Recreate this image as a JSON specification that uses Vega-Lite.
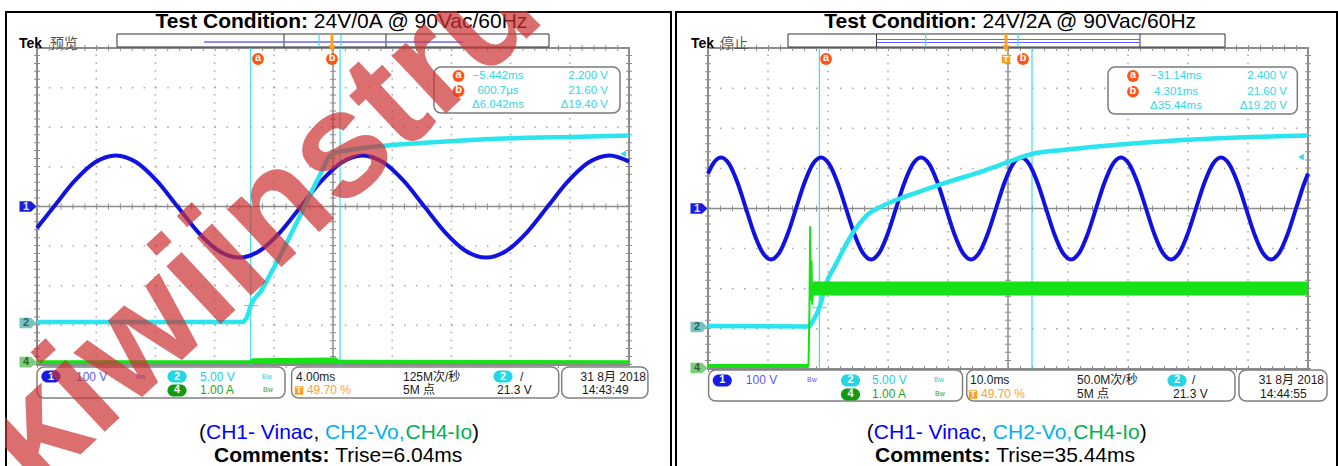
{
"$schema": "https://vega.github.io/schema/vega-lite/v6.json",
"background": "white",
"padding": {"left": 4, "top": 10, "right": 3, "bottom": 0},
"spacing": 1,
"config": {"view": {"stroke": null}, "font": "Liberation Sans, Noto Sans CJK SC"},
"hconcat": [
{
"width": 667, "height": 456,
"resolve": {"scale": {"color": "independent"}},
"encoding": {
 "x": {"field": "x", "type": "quantitative", "scale": {"domain": [-0.5405, 10.7264], "nice": false, "zero": false}, "axis": null},
 "y": {"field": "y", "type": "quantitative", "scale": {"domain": [-6.5783, 4.9369], "nice": false, "zero": false}, "axis": null}
},
"layer": [
 {"data": {"values": [{"x":1,"y":-4,"y2":4},{"x":2,"y":-4,"y2":4},{"x":3,"y":-4,"y2":4},{"x":4,"y":-4,"y2":4},{"x":6,"y":-4,"y2":4},{"x":7,"y":-4,"y2":4},{"x":8,"y":-4,"y2":4},{"x":9,"y":-4,"y2":4}]},
  "mark": {"type": "rule", "color": "#a6a6a6", "strokeWidth": 1.5, "strokeDash": [1.5, 6.42]},
  "encoding": {"y2": {"field": "y2"}}},
 {"data": {"values": [{"x":0,"x2":10,"y":-3},{"x":0,"x2":10,"y":-2},{"x":0,"x2":10,"y":-1},{"x":0,"x2":10,"y":1},{"x":0,"x2":10,"y":2},{"x":0,"x2":10,"y":3}]},
  "mark": {"type": "rule", "color": "#a6a6a6", "strokeWidth": 1.5, "strokeDash": [1.5, 10.34]},
  "encoding": {"x2": {"field": "x2"}}},
 {"data": {"values": [{"x":5,"x2":5,"y":-4,"y2":4},{"x":0,"x2":10,"y":0,"y2":0}]},
  "mark": {"type": "rule", "color": "#8c8c8c", "strokeWidth": 1.5},
  "encoding": {"x2": {"field": "x2"}, "y2": {"field": "y2"}}},
 {"data": {"values": [{"x":5,"y":-4,"y2":4},{"x":0,"y":-4,"y2":4},{"x":10,"y":-4,"y2":4}]},
  "mark": {"type": "rule", "color": "#8c8c8c", "strokeWidth": 6, "strokeDash": [1, 6.92]},
  "encoding": {"y2": {"field": "y2"}}},
 {"data": {"values": [{"x":0,"x2":10,"y":0},{"x":0,"x2":10,"y":-4},{"x":0,"x2":10,"y":4}]},
  "mark": {"type": "rule", "color": "#8c8c8c", "strokeWidth": 6, "strokeDash": [1, 10.84]},
  "encoding": {"x2": {"field": "x2"}}},
 {"data": {"values": [{"x":0,"x2":10,"y":-4,"y2":4}]},
  "mark": {"type": "rect", "fillOpacity": 0, "stroke": "#8c8c8c", "strokeWidth": 2},
  "encoding": {"x2": {"field": "x2"}, "y2": {"field": "y2"}}},
 {"data": {"values": [{"x":3.61,"y":-4,"y2":4},{"x":5.12,"y":-4,"y2":4}]},
  "mark": {"type": "rule", "color": "#3cdcec", "strokeWidth": 1.2},
  "encoding": {"y2": {"field": "y2"}}},
 {"data": {"values": [{"x":0,"y":-0.54},{"x":0.2875,"y":0},{"x":0.635,"y":0.645},{"x":0.9825,"y":1.117},{"x":1.33,"y":1.29},{"x":1.6775,"y":1.117},{"x":2.025,"y":0.645},{"x":2.3725,"y":0},{"x":2.72,"y":-0.645},{"x":3.0675,"y":-1.117},{"x":3.415,"y":-1.29},{"x":3.7625,"y":-1.117},{"x":4.11,"y":-0.645},{"x":4.4575,"y":0},{"x":4.805,"y":0.645},{"x":5.1525,"y":1.117},{"x":5.5,"y":1.29},{"x":5.8475,"y":1.117},{"x":6.195,"y":0.645},{"x":6.5425,"y":0},{"x":6.89,"y":-0.645},{"x":7.2375,"y":-1.117},{"x":7.585,"y":-1.29},{"x":7.9325,"y":-1.117},{"x":8.28,"y":-0.645},{"x":8.6275,"y":0},{"x":8.975,"y":0.645},{"x":9.3225,"y":1.117},{"x":9.67,"y":1.29},{"x":10,"y":1.134}]},
  "mark": {"type": "line", "color": "#1212e0", "strokeWidth": 4, "interpolate": "monotone"},
  "encoding": {}},
 {"data": {"values": [{"x":0,"y":-2.917},{"x":3.463,"y":-2.917},{"x":3.547,"y":-2.79},{"x":3.61,"y":-2.5},{"x":3.784,"y":-2.134},{"x":3.953,"y":-1.679},{"x":4.122,"y":-1.199},{"x":4.291,"y":-0.694},{"x":4.459,"y":-0.189},{"x":4.628,"y":0.341},{"x":4.797,"y":0.846},{"x":4.932,"y":1.25},{"x":5.034,"y":1.351},{"x":5.22,"y":1.414},{"x":5.642,"y":1.503},{"x":6.486,"y":1.604},{"x":7.331,"y":1.679},{"x":8.176,"y":1.73},{"x":9.02,"y":1.755},{"x":10,"y":1.793}]},
  "mark": {"type": "line", "color": "#2ae4ee", "strokeWidth": 4.5, "interpolate": "monotone"},
  "encoding": {}},
 {"data": {"values": [{"x":0,"y":-3.98,"y2":-3.88},{"x":3.6,"y":-3.98,"y2":-3.88},{"x":3.64,"y":-3.98,"y2":-3.83},{"x":4.5,"y":-3.98,"y2":-3.82},{"x":5.05,"y":-3.98,"y2":-3.81},{"x":5.1,"y":-3.98,"y2":-3.87},{"x":10,"y":-3.98,"y2":-3.88}]},
  "mark": {"type": "area", "color": "#16e016", "opacity": 1},
  "encoding": {"y2": {"field": "y2"}}},
 {"data": {"values": [{"x":3.49,"x2":3.73,"y":-2.5},{"x":5.0,"x2":5.24,"y":1.38}]},
  "mark": {"type": "rule", "color": "#3cdcec", "strokeWidth": 1},
  "encoding": {"x2": {"field": "x2"}}},
 {"data": {"values": [{"x":-0.152,"y":0,"ch":"1"},{"x":-0.152,"y":-2.94,"ch":"2"},{"x":-0.152,"y":-3.93,"ch":"4"}]},
  "mark": {"type": "point", "shape": "M-1,-0.62L0.35,-0.62L1,0L0.35,0.62L-1,0.62Z", "size": 289, "filled": true, "opacity": 1},
  "encoding": {"color": {"field": "ch", "type": "nominal", "scale": {"domain": ["1","2","4"], "range": ["#1c1ce0","#78c2c0","#7ccc7c"]}, "legend": null}}},
 {"data": {"values": [{"x":-0.152,"y":0,"ch":"1"},{"x":-0.152,"y":-2.94,"ch":"2"},{"x":-0.152,"y":-3.93,"ch":"4"}]},
  "mark": {"type": "text", "fontSize": 11, "fontWeight": "bold", "dx": -2, "baseline": "middle"},
  "encoding": {"text": {"field": "ch"}, "color": {"field": "ch", "type": "nominal", "scale": {"domain": ["1","2","4"], "range": ["#e0e6ff","#2f6464","#2f642f"]}, "legend": null}}},
 {"data": {"values": [{"x":9.9,"y":1.33}]},
  "mark": {"type": "point", "shape": "triangle-left", "size": 45, "filled": true, "color": "#2ae4ee", "opacity": 1}},
 {"data": {"values": [{"x":1.351,"x2":8.649,"y":4.028,"y2":4.356}]},
  "mark": {"type": "rect", "fill": "white", "stroke": "#333333", "strokeWidth": 1},
  "encoding": {"x2": {"field": "x2"}, "y2": {"field": "y2"}}},
 {"data": {"values": [{"x":4.172,"y":4.028,"y2":4.356},{"x":5.895,"y":4.028,"y2":4.356}]},
  "mark": {"type": "rule", "color": "#333333", "strokeWidth": 1},
  "encoding": {"y2": {"field": "y2"}}},
 {"data": {"values": [{"x":2.821,"x2":7.196,"y":4.154}]},
  "mark": {"type": "rule", "color": "#6464ff", "strokeWidth": 1.5},
  "encoding": {"x2": {"field": "x2"}}},
 {"data": {"values": [{"x":4.764,"y":4.028,"y2":4.356},{"x":5.135,"y":4.028,"y2":4.356}]},
  "mark": {"type": "rule", "color": "#3cdcec", "strokeWidth": 1.2},
  "encoding": {"y2": {"field": "y2"}}},
 {"data": {"values": [{"x":4.983,"y":4.02,"y2":4.35}]},
  "mark": {"type": "rule", "color": "#ffa020", "strokeWidth": 3},
  "encoding": {"y2": {"field": "y2"}}},
 {"data": {"values": [{"x":4.983,"y":3.99}]},
  "mark": {"type": "point", "shape": "triangle-down", "size": 55, "filled": true, "color": "#ffa020", "opacity": 1}},
 {"data": {"values": [{"x":6.706,"x2":9.848,"y":2.361,"y2":3.523}]},
  "mark": {"type": "rect", "fill": "white", "stroke": "#7a7a7a", "strokeWidth": 1.5, "cornerRadius": 7},
  "encoding": {"x2": {"field": "x2"}, "y2": {"field": "y2"}}},
 {"data": {"values": [{"x":3.733,"y":3.725,"lab":"a"},{"x":4.983,"y":3.725,"lab":"b"},{"x":7.12,"y":3.295,"lab":"a"},{"x":7.12,"y":2.917,"lab":"b"}]},
  "mark": {"type": "point", "shape": "circle", "size": 140, "filled": true, "color": "#ff5414", "opacity": 1}},
 {"data": {"values": [{"x":3.733,"y":3.725,"lab":"a"},{"x":4.983,"y":3.725,"lab":"b"},{"x":7.12,"y":3.295,"lab":"a"},{"x":7.12,"y":2.917,"lab":"b"}]},
  "mark": {"type": "text", "fontSize": 11, "fontWeight": "bold", "color": "white", "baseline": "middle", "dy": -1},
  "encoding": {"text": {"field": "lab"}}},
 {"data": {"values": [{"x":7.787,"y":3.295,"t":"−5.442ms"},{"x":7.787,"y":2.917,"t":"600.7µs"},{"x":7.787,"y":2.556,"t":"Δ6.042ms"}]},
  "mark": {"type": "text", "fontSize": 11.5, "color": "#30d8e8", "align": "center", "baseline": "middle"},
  "encoding": {"text": {"field": "t"}}},
 {"data": {"values": [{"x":9.645,"y":3.295,"t":"2.200 V"},{"x":9.645,"y":2.917,"t":"21.60 V"},{"x":9.645,"y":2.556,"t":"Δ19.40 V"}]},
  "mark": {"type": "text", "fontSize": 11.5, "color": "#30d8e8", "align": "right", "baseline": "middle"},
  "encoding": {"text": {"field": "t"}}},
 {"data": {"values": [{"x":0,"x2":4.189,"y":-4.836,"y2":-4.053},{"x":4.301,"x2":8.813,"y":-4.836,"y2":-4.053},{"x":8.863,"x2":10.32,"y":-4.836,"y2":-4.053}]},
  "mark": {"type": "rect", "fill": "white", "stroke": "#808080", "strokeWidth": 1.5, "cornerRadius": 7},
  "encoding": {"x2": {"field": "x2"}, "y2": {"field": "y2"}}},
 {"data": {"values": [{"x":0.236,"y":-4.293,"ch":"1"},{"x":2.365,"y":-4.293,"ch":"2"},{"x":2.365,"y":-4.646,"ch":"4"},{"x":7.872,"y":-4.293,"ch":"2"}]},
  "mark": {"type": "point", "shape": "M-0.32,-0.54L0.32,-0.54A0.54,0.54 0 0 1 0.32,0.54L-0.32,0.54A0.54,0.54 0 0 1 -0.32,-0.54Z", "size": 494, "filled": true, "opacity": 1},
  "encoding": {"color": {"field": "ch", "type": "nominal", "scale": {"domain": ["1","2","4"], "range": ["#1a1ae6","#22d6e6","#139a13"]}, "legend": null}}},
 {"data": {"values": [{"x":0.236,"y":-4.293,"ch":"1"},{"x":2.365,"y":-4.293,"ch":"2"},{"x":2.365,"y":-4.646,"ch":"4"},{"x":7.872,"y":-4.293,"ch":"2"}]},
  "mark": {"type": "text", "fontSize": 11, "fontWeight": "bold", "color": "white", "baseline": "middle"},
  "encoding": {"text": {"field": "ch"}}},
 {"data": {"values": [{"x":4.426,"y":-4.646}]},
  "mark": {"type": "point", "shape": "square", "size": 72, "filled": true, "color": "#ffa020", "opacity": 1}},
 {"data": {"values": [{"x":4.426,"y":-4.646}]},
  "mark": {"type": "text", "fontSize": 9, "fontWeight": "bold", "color": "white", "baseline": "middle", "text": "T"},
  "encoding": {}},
 {"data": {"values": [{"x":0.659,"y":-4.293,"t":"100 V","c":"ch1"},{"x":2.753,"y":-4.293,"t":"5.00 V","c":"ch2"},{"x":2.753,"y":-4.646,"t":"1.00 A","c":"ch4"},{"x":4.375,"y":-4.293,"t":"4.00ms","c":"k"},{"x":4.56,"y":-4.646,"t":"49.70 %","c":"or"},{"x":6.182,"y":-4.293,"t":"125M次/秒","c":"k"},{"x":6.182,"y":-4.646,"t":"5M 点","c":"k"},{"x":8.159,"y":-4.293,"t":"/","c":"k"},{"x":7.77,"y":-4.646,"t":"21.3 V","c":"k"},{"x":9.206,"y":-4.646,"t":"14:43:49","c":"k"}]},
  "mark": {"type": "text", "fontSize": 12, "align": "left", "baseline": "middle"},
  "encoding": {"text": {"field": "t"}, "color": {"field": "c", "type": "nominal", "scale": {"domain": ["ch1","ch2","ch4","k","or"], "range": ["#5a5aff","#20d0e4","#1fa51f","#1a1a1a","#ffa032"]}, "legend": null}}},
 {"data": {"values": [{"x":1.672,"y":-4.293,"c":"ch1"},{"x":3.801,"y":-4.293,"c":"ch2"},{"x":3.818,"y":-4.646,"c":"ch4"}]},
  "mark": {"type": "text", "fontSize": 7, "align": "left", "baseline": "middle", "text": "Bw"},
  "encoding": {"color": {"field": "c", "type": "nominal", "scale": {"domain": ["ch1","ch2","ch4"], "range": ["#5a5aff","#20d0e4","#1fa51f"]}, "legend": null}}},
 {"data": {"values": [{"x":10.287,"y":-4.293,"t":"31 8月 2018"}]},
  "mark": {"type": "text", "fontSize": 12, "align": "right", "baseline": "middle", "color": "#1a1a1a"},
  "encoding": {"text": {"field": "t"}}},
 {"data": {"values": [{"x":4.578,"y":4.508,"t":"Test Condition:"},{"x":4.941,"y":-6.452,"t":"Comments:"}]},
  "mark": {"type": "text", "fontSize": 21, "fontWeight": "bold", "align": "right", "baseline": "alphabetic", "color": "black"},
  "encoding": {"text": {"field": "t"}}},
 {"data": {"values": [{"x":4.676,"y":4.508,"t":"24V/0A @ 90Vac/60Hz"},{"x":5.039,"y":-6.452,"t":"Trise=6.04ms"}]},
  "mark": {"type": "text", "fontSize": 21, "align": "left", "baseline": "alphabetic", "color": "black"},
  "encoding": {"text": {"field": "t"}}},
 {"data": {"values": [{"x":2.736,"y":-5.871,"t":"(","ch":"k"},{"x":2.855,"y":-5.871,"t":"CH1- Vinac","ch":"CH1"},{"x":4.669,"y":-5.871,"t":",","ch":"k"},{"x":4.867,"y":-5.871,"t":"CH2-Vo,","ch":"CH2"},{"x":6.226,"y":-5.871,"t":"CH4-Io","ch":"CH4"},{"x":7.35,"y":-5.871,"t":")","ch":"k"}]},
  "mark": {"type": "text", "fontSize": 21, "align": "left", "baseline": "alphabetic"},
  "encoding": {"text": {"field": "t"}, "color": {"field": "ch", "type": "nominal", "scale": {"domain": ["k","CH1","CH2","CH4"], "range": ["#000000","#0000ff","#00b0f0","#00b050"]}, "legend": null}}},
 {"data": {"values": [{"x":-0.304,"y":4.003,"t":"Tek"}]},
  "mark": {"type": "text", "fontSize": 14, "fontWeight": "bold", "align": "left", "baseline": "alphabetic", "color": "black"},
  "encoding": {"text": {"field": "t"}}},
 {"data": {"values": [{"x":0.22,"y":4.003,"t":"预览"}]},
  "mark": {"type": "text", "fontSize": 14, "align": "left", "baseline": "alphabetic", "color": "#555555", "font": "Noto Sans CJK SC"},
  "encoding": {"text": {"field": "t"}}},
 {"data": {"values": [{"x":-0.5236,"x2":-0.5236,"y":-6.528,"y2":4.9116},{"x":10.7095,"x2":10.7095,"y":-6.528,"y2":4.9116},{"x":-0.5236,"x2":10.7095,"y":4.9116,"y2":4.9116}]},
  "mark": {"type": "rule", "color": "black", "strokeWidth": 2, "strokeCap": "square"},
  "encoding": {"x2": {"field": "x2"}, "y2": {"field": "y2"}}},
 {"data": {"values": [{"x":-0.017,"y":-7.311,"t":"kiwiinstruments"}]},
  "mark": {"type": "text", "fontSize": 150, "fontWeight": "bold", "align": "left", "baseline": "alphabetic", "angle": -43, "color": "#cc3333", "opacity": 0.7, "clip": true},
  "encoding": {"text": {"field": "t"}}}
]
},
{
"width": 663, "height": 456,
"resolve": {"scale": {"color": "independent"}},
"encoding": {
 "x": {"field": "x", "type": "quantitative", "scale": {"domain": [-0.55, 10.5], "nice": false, "zero": false}, "axis": null},
 "y": {"field": "y", "type": "quantitative", "scale": {"domain": [-6.4464, 4.9252], "nice": false, "zero": false}, "axis": null}
},
"layer": [
 {"data": {"values": [{"x":1,"y":-4,"y2":4},{"x":2,"y":-4,"y2":4},{"x":3,"y":-4,"y2":4},{"x":4,"y":-4,"y2":4},{"x":6,"y":-4,"y2":4},{"x":7,"y":-4,"y2":4},{"x":8,"y":-4,"y2":4},{"x":9,"y":-4,"y2":4}]},
  "mark": {"type": "rule", "color": "#a6a6a6", "strokeWidth": 1.5, "strokeDash": [1.5, 6.52]},
  "encoding": {"y2": {"field": "y2"}}},
 {"data": {"values": [{"x":0,"x2":10,"y":-3},{"x":0,"x2":10,"y":-2},{"x":0,"x2":10,"y":-1},{"x":0,"x2":10,"y":1},{"x":0,"x2":10,"y":2},{"x":0,"x2":10,"y":3}]},
  "mark": {"type": "rule", "color": "#a6a6a6", "strokeWidth": 1.5, "strokeDash": [1.5, 10.5]},
  "encoding": {"x2": {"field": "x2"}}},
 {"data": {"values": [{"x":5,"x2":5,"y":-4,"y2":4},{"x":0,"x2":10,"y":0,"y2":0}]},
  "mark": {"type": "rule", "color": "#8c8c8c", "strokeWidth": 1.5},
  "encoding": {"x2": {"field": "x2"}, "y2": {"field": "y2"}}},
 {"data": {"values": [{"x":5,"y":-4,"y2":4},{"x":0,"y":-4,"y2":4},{"x":10,"y":-4,"y2":4}]},
  "mark": {"type": "rule", "color": "#8c8c8c", "strokeWidth": 6, "strokeDash": [1, 7.02]},
  "encoding": {"y2": {"field": "y2"}}},
 {"data": {"values": [{"x":0,"x2":10,"y":0},{"x":0,"x2":10,"y":-4},{"x":0,"x2":10,"y":4}]},
  "mark": {"type": "rule", "color": "#8c8c8c", "strokeWidth": 6, "strokeDash": [1, 11]},
  "encoding": {"x2": {"field": "x2"}}},
 {"data": {"values": [{"x":0,"x2":10,"y":-4,"y2":4}]},
  "mark": {"type": "rect", "fillOpacity": 0, "stroke": "#8c8c8c", "strokeWidth": 2},
  "encoding": {"x2": {"field": "x2"}, "y2": {"field": "y2"}}},
 {"data": {"values": [{"x":1.856,"y":-4,"y2":4},{"x":5.4,"y":-4,"y2":4}]},
  "mark": {"type": "rule", "color": "#3cdcec", "strokeWidth": 1.2},
  "encoding": {"y2": {"field": "y2"}}},
 {"data": {"values": [{"x":0,"y":0.87},{"x":0.078,"y":1.1},{"x":0.217,"y":1.27},{"x":0.356,"y":1.1},{"x":0.494,"y":0.635},{"x":0.633,"y":0},{"x":0.772,"y":-0.635},{"x":0.911,"y":-1.1},{"x":1.05,"y":-1.27},{"x":1.189,"y":-1.1},{"x":1.328,"y":-0.635},{"x":1.467,"y":0},{"x":1.606,"y":0.635},{"x":1.744,"y":1.1},{"x":1.883,"y":1.27},{"x":2.022,"y":1.1},{"x":2.161,"y":0.635},{"x":2.3,"y":0},{"x":2.439,"y":-0.635},{"x":2.578,"y":-1.1},{"x":2.717,"y":-1.27},{"x":2.856,"y":-1.1},{"x":2.994,"y":-0.635},{"x":3.133,"y":0},{"x":3.272,"y":0.635},{"x":3.411,"y":1.1},{"x":3.55,"y":1.27},{"x":3.689,"y":1.1},{"x":3.828,"y":0.635},{"x":3.967,"y":0},{"x":4.106,"y":-0.635},{"x":4.244,"y":-1.1},{"x":4.383,"y":-1.27},{"x":4.522,"y":-1.1},{"x":4.661,"y":-0.635},{"x":4.8,"y":0},{"x":4.939,"y":0.635},{"x":5.078,"y":1.1},{"x":5.217,"y":1.27},{"x":5.356,"y":1.1},{"x":5.494,"y":0.635},{"x":5.633,"y":0},{"x":5.772,"y":-0.635},{"x":5.911,"y":-1.1},{"x":6.05,"y":-1.27},{"x":6.189,"y":-1.1},{"x":6.328,"y":-0.635},{"x":6.467,"y":0},{"x":6.606,"y":0.635},{"x":6.744,"y":1.1},{"x":6.883,"y":1.27},{"x":7.022,"y":1.1},{"x":7.161,"y":0.635},{"x":7.3,"y":0},{"x":7.439,"y":-0.635},{"x":7.578,"y":-1.1},{"x":7.717,"y":-1.27},{"x":7.856,"y":-1.1},{"x":7.994,"y":-0.635},{"x":8.133,"y":0},{"x":8.272,"y":0.635},{"x":8.411,"y":1.1},{"x":8.55,"y":1.27},{"x":8.689,"y":1.1},{"x":8.828,"y":0.635},{"x":8.967,"y":0},{"x":9.106,"y":-0.635},{"x":9.244,"y":-1.1},{"x":9.383,"y":-1.27},{"x":9.522,"y":-1.1},{"x":9.661,"y":-0.635},{"x":9.8,"y":0},{"x":9.939,"y":0.635},{"x":10,"y":0.87}]},
  "mark": {"type": "line", "color": "#1212e0", "strokeWidth": 4, "interpolate": "monotone"},
  "encoding": {}},
 {"data": {"values": [{"x":0,"y":-2.93},{"x":1.683,"y":-2.94},{"x":1.75,"y":-2.8},{"x":1.856,"y":-2.475},{"x":1.967,"y":-1.883},{"x":2.133,"y":-1.384},{"x":2.3,"y":-0.9},{"x":2.417,"y":-0.6},{"x":2.633,"y":-0.19},{"x":2.917,"y":0.07},{"x":3.2,"y":0.25},{"x":3.583,"y":0.45},{"x":4.083,"y":0.7},{"x":4.583,"y":0.93},{"x":4.917,"y":1.11},{"x":5.4,"y":1.36},{"x":5.917,"y":1.46},{"x":6.583,"y":1.56},{"x":7.417,"y":1.658},{"x":8.25,"y":1.733},{"x":9.083,"y":1.783},{"x":10,"y":1.82}]},
  "mark": {"type": "line", "color": "#2ae4ee", "strokeWidth": 4.5, "interpolate": "monotone"},
  "encoding": {}},
 {"data": {"values": [{"x":0,"y":-3.98,"y2":-3.88,"seg":"off"},{"x":1.68,"y":-3.98,"y2":-3.88,"seg":"off"},{"x":1.745,"y":-2.17,"y2":-1.82,"seg":"on"},{"x":10,"y":-2.17,"y2":-1.82,"seg":"on"}]},
  "mark": {"type": "area", "color": "#16e016", "opacity": 1},
  "encoding": {"y2": {"field": "y2"}, "detail": {"field": "seg"}}},
 {"data": {"values": [{"x":1.675,"y":-3.93},{"x":1.69,"y":-2.6},{"x":1.703,"y":-0.44},{"x":1.715,"y":-2.3},{"x":1.725,"y":-1.3},{"x":1.738,"y":-2.4},{"x":1.755,"y":-1.95}]},
  "mark": {"type": "line", "color": "#16e016", "strokeWidth": 2},
  "encoding": {}},
 {"data": {"values": [{"x":1.736,"x2":1.976,"y":-2.475},{"x":5.28,"x2":5.52,"y":1.36}]},
  "mark": {"type": "rule", "color": "#3cdcec", "strokeWidth": 1},
  "encoding": {"x2": {"field": "x2"}}},
 {"data": {"values": [{"x":-0.15,"y":0,"ch":"1"},{"x":-0.15,"y":-2.955,"ch":"2"},{"x":-0.15,"y":-3.978,"ch":"4"}]},
  "mark": {"type": "point", "shape": "M-1,-0.62L0.35,-0.62L1,0L0.35,0.62L-1,0.62Z", "size": 289, "filled": true, "opacity": 1},
  "encoding": {"color": {"field": "ch", "type": "nominal", "scale": {"domain": ["1","2","4"], "range": ["#1c1ce0","#78c2c0","#7ccc7c"]}, "legend": null}}},
 {"data": {"values": [{"x":-0.15,"y":0,"ch":"1"},{"x":-0.15,"y":-2.955,"ch":"2"},{"x":-0.15,"y":-3.978,"ch":"4"}]},
  "mark": {"type": "text", "fontSize": 11, "fontWeight": "bold", "dx": -2, "baseline": "middle"},
  "encoding": {"text": {"field": "ch"}, "color": {"field": "ch", "type": "nominal", "scale": {"domain": ["1","2","4"], "range": ["#e0e6ff","#2f6464","#2f642f"]}, "legend": null}}},
 {"data": {"values": [{"x":9.883,"y":1.284}]},
  "mark": {"type": "point", "shape": "triangle-left", "size": 45, "filled": true, "color": "#2ae4ee", "opacity": 1}},
 {"data": {"values": [{"x":1.333,"x2":8.617,"y":4.027,"y2":4.352}]},
  "mark": {"type": "rect", "fill": "white", "stroke": "#333333", "strokeWidth": 1},
  "encoding": {"x2": {"field": "x2"}, "y2": {"field": "y2"}}},
 {"data": {"values": [{"x":2.808,"y":4.027,"y2":4.352},{"x":7.2,"y":4.027,"y2":4.352}]},
  "mark": {"type": "rule", "color": "#333333", "strokeWidth": 1},
  "encoding": {"y2": {"field": "y2"}}},
 {"data": {"values": [{"x":2.808,"x2":7.2,"y":4.14},{"x":2.808,"x2":7.2,"y":4.215}]},
  "mark": {"type": "rule", "color": "#6464ff", "strokeWidth": 1.2},
  "encoding": {"x2": {"field": "x2"}}},
 {"data": {"values": [{"x":3.628,"y":4.027,"y2":4.352},{"x":5.167,"y":4.027,"y2":4.352}]},
  "mark": {"type": "rule", "color": "#3cdcec", "strokeWidth": 1.2},
  "encoding": {"y2": {"field": "y2"}}},
 {"data": {"values": [{"x":4.967,"y":4.02,"y2":4.35}]},
  "mark": {"type": "rule", "color": "#ffa020", "strokeWidth": 3},
  "encoding": {"y2": {"field": "y2"}}},
 {"data": {"values": [{"x":4.967,"y":3.99}]},
  "mark": {"type": "point", "shape": "triangle-down", "size": 55, "filled": true, "color": "#ffa020", "opacity": 1}},
 {"data": {"values": [{"x":6.667,"x2":9.822,"y":2.357,"y2":3.529}]},
  "mark": {"type": "rect", "fill": "white", "stroke": "#7a7a7a", "strokeWidth": 1.5, "cornerRadius": 7},
  "encoding": {"x2": {"field": "x2"}, "y2": {"field": "y2"}}},
 {"data": {"values": [{"x":1.967,"y":3.728,"lab":"a"},{"x":5.25,"y":3.728,"lab":"b"},{"x":7.083,"y":3.304,"lab":"a"},{"x":7.083,"y":2.913,"lab":"b"}]},
  "mark": {"type": "point", "shape": "circle", "size": 140, "filled": true, "color": "#ff5414", "opacity": 1}},
 {"data": {"values": [{"x":1.967,"y":3.728,"lab":"a"},{"x":5.25,"y":3.728,"lab":"b"},{"x":7.083,"y":3.304,"lab":"a"},{"x":7.083,"y":2.913,"lab":"b"}]},
  "mark": {"type": "text", "fontSize": 11, "fontWeight": "bold", "color": "white", "baseline": "middle", "dy": -1},
  "encoding": {"text": {"field": "lab"}}},
 {"data": {"values": [{"x":7.8,"y":3.304,"t":"−31.14ms"},{"x":7.8,"y":2.913,"t":"4.301ms"},{"x":7.8,"y":2.556,"t":"Δ35.44ms"}]},
  "mark": {"type": "text", "fontSize": 11.5, "color": "#30d8e8", "align": "center", "baseline": "middle"},
  "encoding": {"text": {"field": "t"}}},
 {"data": {"values": [{"x":9.65,"y":3.304,"t":"2.400 V"},{"x":9.65,"y":2.913,"t":"21.60 V"},{"x":9.65,"y":2.556,"t":"Δ19.20 V"}]},
  "mark": {"type": "text", "fontSize": 11.5, "color": "#30d8e8", "align": "right", "baseline": "middle"},
  "encoding": {"text": {"field": "t"}}},
 {"data": {"values": [{"x":0.01,"x2":4.242,"y":-4.8,"y2":-4.027},{"x":4.312,"x2":8.783,"y":-4.8,"y2":-4.027},{"x":8.85,"x2":10.317,"y":-4.8,"y2":-4.027}]},
  "mark": {"type": "rect", "fill": "white", "stroke": "#808080", "strokeWidth": 1.5, "cornerRadius": 7},
  "encoding": {"x2": {"field": "x2"}, "y2": {"field": "y2"}}},
 {"data": {"values": [{"x":0.238,"y":-4.289,"ch":"1"},{"x":2.375,"y":-4.289,"ch":"2"},{"x":2.375,"y":-4.638,"ch":"4"},{"x":7.817,"y":-4.289,"ch":"2"}]},
  "mark": {"type": "point", "shape": "M-0.32,-0.54L0.32,-0.54A0.54,0.54 0 0 1 0.32,0.54L-0.32,0.54A0.54,0.54 0 0 1 -0.32,-0.54Z", "size": 494, "filled": true, "opacity": 1},
  "encoding": {"color": {"field": "ch", "type": "nominal", "scale": {"domain": ["1","2","4"], "range": ["#1a1ae6","#22d6e6","#139a13"]}, "legend": null}}},
 {"data": {"values": [{"x":0.238,"y":-4.289,"ch":"1"},{"x":2.375,"y":-4.289,"ch":"2"},{"x":2.375,"y":-4.638,"ch":"4"},{"x":7.817,"y":-4.289,"ch":"2"}]},
  "mark": {"type": "text", "fontSize": 11, "fontWeight": "bold", "color": "white", "baseline": "middle"},
  "encoding": {"text": {"field": "ch"}}},
 {"data": {"values": [{"x":4.417,"y":-4.638},{"x":4.967,"y":3.728}]},
  "mark": {"type": "point", "shape": "square", "size": 72, "filled": true, "color": "#ffa020", "opacity": 1}},
 {"data": {"values": [{"x":4.417,"y":-4.638},{"x":4.967,"y":3.728}]},
  "mark": {"type": "text", "fontSize": 9, "fontWeight": "bold", "color": "white", "baseline": "middle", "text": "T"},
  "encoding": {}},
 {"data": {"values": [{"x":0.63,"y":-4.289,"t":"100 V","c":"ch1"},{"x":2.733,"y":-4.289,"t":"5.00 V","c":"ch2"},{"x":2.733,"y":-4.638,"t":"1.00 A","c":"ch4"},{"x":4.367,"y":-4.289,"t":"10.0ms","c":"k"},{"x":4.55,"y":-4.638,"t":"49.70 %","c":"or"},{"x":6.15,"y":-4.289,"t":"50.0M次/秒","c":"k"},{"x":6.15,"y":-4.638,"t":"5M 点","c":"k"},{"x":8.067,"y":-4.289,"t":"/","c":"k"},{"x":7.75,"y":-4.638,"t":"21.3 V","c":"k"},{"x":9.2,"y":-4.638,"t":"14:44:55","c":"k"}]},
  "mark": {"type": "text", "fontSize": 12, "align": "left", "baseline": "middle"},
  "encoding": {"text": {"field": "t"}, "color": {"field": "c", "type": "nominal", "scale": {"domain": ["ch1","ch2","ch4","k","or"], "range": ["#5a5aff","#20d0e4","#1fa51f","#1a1a1a","#ffa032"]}, "legend": null}}},
 {"data": {"values": [{"x":1.65,"y":-4.289,"c":"ch1"},{"x":3.767,"y":-4.289,"c":"ch2"},{"x":3.783,"y":-4.638,"c":"ch4"}]},
  "mark": {"type": "text", "fontSize": 7, "align": "left", "baseline": "middle", "text": "Bw"},
  "encoding": {"color": {"field": "c", "type": "nominal", "scale": {"domain": ["ch1","ch2","ch4"], "range": ["#5a5aff","#20d0e4","#1fa51f"]}, "legend": null}}},
 {"data": {"values": [{"x":10.267,"y":-4.289,"t":"31 8月 2018"}]},
  "mark": {"type": "text", "fontSize": 12, "align": "right", "baseline": "middle", "color": "#1a1a1a"},
  "encoding": {"text": {"field": "t"}}},
 {"data": {"values": [{"x":4.478,"y":4.501,"t":"Test Condition:"},{"x":4.708,"y":-6.322,"t":"Comments:"}]},
  "mark": {"type": "text", "fontSize": 21, "fontWeight": "bold", "align": "right", "baseline": "alphabetic", "color": "black"},
  "encoding": {"text": {"field": "t"}}},
 {"data": {"values": [{"x":4.575,"y":4.501,"t":"24V/2A @ 90Vac/60Hz"},{"x":4.805,"y":-6.322,"t":"Trise=35.44ms"}]},
  "mark": {"type": "text", "fontSize": 21, "align": "left", "baseline": "alphabetic", "color": "black"},
  "encoding": {"text": {"field": "t"}}},
 {"data": {"values": [{"x":2.645,"y":-5.748,"t":"(","ch":"k"},{"x":2.762,"y":-5.748,"t":"CH1- Vinac","ch":"CH1"},{"x":4.552,"y":-5.748,"t":",","ch":"k"},{"x":4.747,"y":-5.748,"t":"CH2-Vo,","ch":"CH2"},{"x":6.088,"y":-5.748,"t":"CH4-Io","ch":"CH4"},{"x":7.197,"y":-5.748,"t":")","ch":"k"}]},
  "mark": {"type": "text", "fontSize": 21, "align": "left", "baseline": "alphabetic"},
  "encoding": {"text": {"field": "t"}, "color": {"field": "ch", "type": "nominal", "scale": {"domain": ["k","CH1","CH2","CH4"], "range": ["#000000","#0000ff","#00b0f0","#00b050"]}, "legend": null}}},
 {"data": {"values": [{"x":-0.283,"y":4.003,"t":"Tek"}]},
  "mark": {"type": "text", "fontSize": 14, "fontWeight": "bold", "align": "left", "baseline": "alphabetic", "color": "black"},
  "encoding": {"text": {"field": "t"}}},
 {"data": {"values": [{"x":0.2,"y":4.003,"t":"停止"}]},
  "mark": {"type": "text", "fontSize": 14, "align": "left", "baseline": "alphabetic", "color": "#555555", "font": "Noto Sans CJK SC"},
  "encoding": {"text": {"field": "t"}}},
 {"data": {"values": [{"x":-0.5333,"x2":-0.5333,"y":-6.397,"y2":4.9002},{"x":10.4833,"x2":10.4833,"y":-6.397,"y2":4.9002},{"x":-0.5333,"x2":10.4833,"y":4.9002,"y2":4.9002}]},
  "mark": {"type": "rule", "color": "black", "strokeWidth": 2, "strokeCap": "square"},
  "encoding": {"x2": {"field": "x2"}, "y2": {"field": "y2"}}}
]
}
]
}
